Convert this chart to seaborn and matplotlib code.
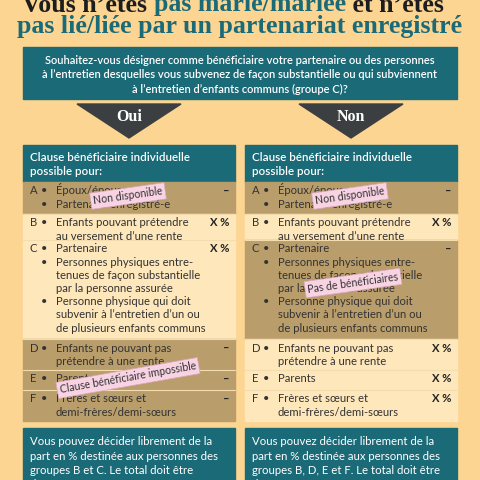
import matplotlib
matplotlib.use("Agg")
import matplotlib.pyplot as plt
import seaborn as sns
from matplotlib.patches import Rectangle, Polygon

sns.set_theme(style="white")
BODY = ['Lato', 'DejaVu Sans']
plt.rcParams['font.family'] = BODY

BG = '#fcd592'; TEAL = '#1a6a77'; DARK = '#3b3f41'; TAN = '#b99d6b'; LIGHT = '#fde7bb'; PINK = '#f8d3e3'
SERIF = 'Liberation Serif'

title1 = [("Vous n’êtes ", '#1d1d1d'), ("pas marié/mariée", TEAL), (" et n’êtes", '#1d1d1d')]
title2 = "pas lié/liée par un partenariat enregistré"
question = ["Souhaitez-vous désigner comme bénéficiaire votre partenaire ou des personnes",
            "à l’entretien desquelles vous subvenez de façon substantielle ou qui subviennent",
            "à l’entretien d’enfants communs (groupe C)?"]
answers = ["Oui", "Non"]
header = ["Clause bénéficiaire individuelle", "possible pour:"]
letters = ["A", "B", "C", "D", "E", "F"]
items = [
    [["Époux/épouse"], ["Partenaire enregistré-e"]],
    [["Enfants pouvant prétendre", "au versement d’une rente"]],
    [["Partenaire"], ["Personnes physiques entre-", "tenues de façon substantielle", "par la personne assurée"],
     ["Personne physique qui doit", "subvenir à l’entretien d’un ou", "de plusieurs enfants communs"]],
    [["Enfants ne pouvant pas", "prétendre à une rente"]],
    [["Parents"]],
    [["Frères et sœurs et", "demi-frères/demi-sœurs"]],
]
pct_left = ["–", "X %", "X %", "–", "–", "–"]
pct_right = ["–", "X %", "–", "X %", "X %", "X %"]
shade_left = [True, False, False, True, True, True]
shade_right = [True, False, True, False, False, False]
row_y = [182, 214, 240, 339, 370, 390, 421]
footer_left = ["Vous pouvez décider librement de la", "part en % destinée aux personnes des",
               "groupes B et C. Le total doit être", "de 100%."]
footer_right = ["Vous pouvez décider librement de la", "part en % destinée aux personnes des",
                "groupes B, D, E et F. Le total doit être", "de 100%."]
stamps_left = [("Non disponible", 128, 196, 8), ("Clause bénéficiaire impossible", 128, 378, 10)]
stamps_right = [("Non disponible", 350, 196, 8), ("Pas de bénéficiaires", 353, 283, 8)]

fig = plt.figure(figsize=(4.8, 4.8), dpi=100)
fig.patch.set_facecolor(BG)
ax = fig.add_axes([0, 0, 1, 1])
ax.set_xlim(0, 480); ax.set_ylim(480, 0); ax.axis('off')
r = fig.canvas.get_renderer()

# title, sized so line 2 spans ~444 px
probe = ax.text(0, 0, title2, fontsize=20, family=SERIF, weight='bold')
fs_t = 20 * 444 / probe.get_window_extent(r).width
probe.remove()
ax.text(240, 27, title2, color=TEAL, fontsize=fs_t, family=SERIF, weight='bold', va='center', ha='center')
x = 22
for s, c in title1:
    tt = ax.text(x, 5, s, color=c, fontsize=fs_t, family=SERIF, weight='bold', va='center')
    x += tt.get_window_extent(r).width

ax.add_patch(Rectangle((23, 47), 434, 52, color=TEAL))
for i, l in enumerate(question):
    ax.text(240, 61 + 14 * i, l, color='white', fontsize=8.0, ha='center', va='center', weight='semibold')

for cx, a in zip([129, 351], answers):
    ax.add_patch(Polygon([(cx - 52, 104), (cx + 52, 104), (cx, 138)], color=DARK))
    ax.text(cx, 117, a, color='white', fontsize=11.5, family=SERIF, weight='bold', ha='center', va='center')

FS = 8.1
def column(x0, pcts, shades, footer, stamps):
    w = 212
    ax.add_patch(Rectangle((x0, 145), w, 37, color=TEAL))
    ax.text(x0 + 7, 161, header[0], color='white', fontsize=8.4, va='baseline', weight='semibold')
    ax.text(x0 + 7, 175, header[1], color='white', fontsize=8.4, va='baseline', weight='semibold')
    for k in range(6):
        y0, y1 = row_y[k], row_y[k + 1]
        ax.add_patch(Rectangle((x0, y0), w, y1 - y0, color=TAN if shades[k] else LIGHT))
        if k > 0:
            ax.plot([x0, x0 + w], [y0, y0], color='#f3dcae', lw=0.8)
        base = y0 + 12.5
        ax.text(x0 + 7, base, letters[k], fontsize=FS, color='#333', va='baseline')
        ax.text(x0 + w - 6, base, pcts[k], fontsize=FS, color='#222', va='baseline', ha='right', weight='bold')
        yy = base
        for bullet in items[k]:
            ax.text(x0 + 18, yy, "•", fontsize=FS, color='#333', va='baseline')
            for line in bullet:
                ax.text(x0 + 33, yy, line, fontsize=FS, color='#333', va='baseline')
                yy += 13.2
    ax.add_patch(Rectangle((x0, 428), w, 60, color=TEAL))
    for i, l in enumerate(footer):
        ax.text(x0 + 7, 445 + 14.5 * i, l, color='white', fontsize=8.2, va='baseline')
    for s, sx, sy, rot in stamps:
        ax.text(sx, sy, s, fontsize=7.6, color='#333', ha='center', va='center', rotation=rot,
                bbox=dict(boxstyle='square,pad=0.25', fc=PINK, ec='#d9a9bd', lw=0.5))

column(23, pct_left, shade_left, footer_left, stamps_left)
column(245, pct_right, shade_right, footer_right, stamps_right)

fig.savefig("out.png", dpi=100, facecolor=BG)
